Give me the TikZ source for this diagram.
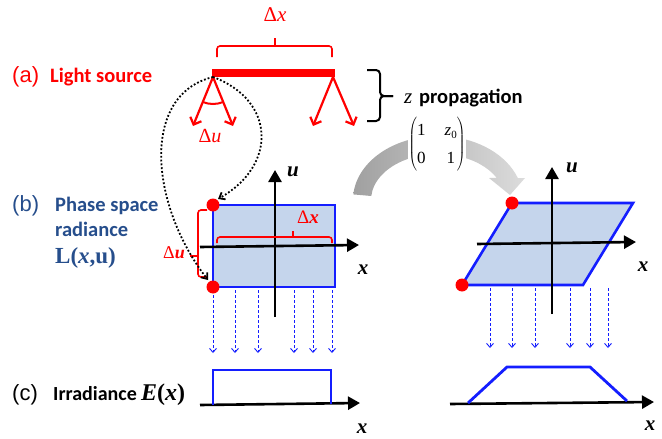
\documentclass[tikz,border=0pt]{standalone}
\usepackage{fontspec}
\setmainfont{Carlito}
\newfontfamily\tnr{Liberation Serif}
\newfontfamily\ars{Liberation Sans}
\usetikzlibrary{arrows.meta,calc}
\definecolor{lblue}{RGB}{197,213,236}
\definecolor{bblue}{RGB}{20,30,255}
\definecolor{dblue}{RGB}{38,78,140}
\definecolor{grayA}{RGB}{160,160,160}
\definecolor{grayB}{RGB}{220,220,220}
\newcommand\setfs[1]{\fontsize{#1}{#1}\selectfont}
\begin{document}
\begin{tikzpicture}[x=1pt,y=-1pt,
  axis/.style={line width=2.6pt,-{Triangle[length=12pt,width=13pt]}},
  raybeam/.style={red,line width=2.2pt,-{Straight Barb[length=6pt,width=12pt]}},
  dropray/.style={bblue,line width=0.9pt,dash pattern=on 3pt off 2pt,-{Straight Barb[length=4pt,width=7pt]}},
  dotcurve/.style={line width=1.8pt,dotted,-{Straight Barb[length=5pt,width=8pt]}},
  reddot/.style={circle,fill=red,inner sep=0pt,minimum size=13pt},
  bracepath/.style={line width=1.6pt,rounded corners=3pt},
  lab/.style={inner sep=0pt,anchor=base west},
  clab/.style={inner sep=0pt,anchor=base},
  axlab/.style={inner sep=0pt,font=\tnr\bfseries\itshape\setfs{21}},
  phasebox/.style={fill=lblue,draw=bblue,line width=2.6pt,line join=miter},
  irr/.style={bblue,line width=2.8pt}]
\useasboundingbox (0,0) rectangle (662,439);

% ---------- gray transformation arrow ----------
\coordinate (gc) at (438,200);
\shade[left color=grayA,right color=grayB]
  ($(gc)+(185:85 and 64)$) arc[start angle=185,end angle=340,x radius=85,y radius=64]
  -- (525,178) -- (510,195) -- (489,178)
  -- ($(gc)+(331.4:67 and 46)$) arc[start angle=331.4,end angle=185,x radius=67,y radius=46]
  -- cycle;
\node[fill=white,inner sep=0.5pt] (mat) at (437,144)
  {\fontsize{17}{20}\selectfont\renewcommand\arraystretch{1.4}$\left(\begin{tabular}{@{}c@{\hspace{19pt}}c@{}}\tnr 1 & \tnr\itshape z\raisebox{-3pt}{\upshape\setfs{11}0}\\ \tnr 0 & \tnr 1\end{tabular}\right)$};

% ---------- (a) light source ----------
\node[lab,text=red,font=\ars\setfs{22}] (pa) at (12,82) {(a)};
\node[lab,text=red,font=\bfseries\setfs{20.5}] (ls) at (50,82) {Light source};
\coordinate (barL) at (212,73);
\coordinate (barR) at (335,73);
\draw[red,line width=8pt] (barL) -- (barR);
\coordinate (aL) at (213,77);
\coordinate (aR) at (333,77);
\coordinate (aL1) at (193,126);
\coordinate (aL2) at (233,126);
\coordinate (aR1) at (313,126);
\coordinate (aR2) at (354,126);
\draw[raybeam] (aL) -- (aL1);
\draw[raybeam] (aL) -- (aL2);
\draw[raybeam] (aR) -- (aR1);
\draw[raybeam] (aR) -- (aR2);
\draw[red,line width=2pt] ($(aL)+(113:27)$) arc[start angle=113,end angle=67,radius=27];
\node[clab,text=red,font=\tnr\setfs{20}] (dub) at (210,142) {Δ\textit{u}};
% top brace
\draw[red,bracepath] (217,57) -- (217,46) -- (332,46) -- (332,57);
\draw[red,line width=1.6pt] (275,46) -- (275,38);
\node[clab,text=red,font=\tnr\setfs{21}] (dxt) at (275,21) {Δ\textit{x}};

% z propagation brace
\draw[line width=2pt,rounded corners=4pt] (367,70) -- (380,70) -- (380,96) -- (393,96);
\draw[line width=2pt,rounded corners=4pt] (367,121) -- (380,121) -- (380,96) -- (393,96);
\node[lab,font=\tnr\itshape\setfs{21}] (zz) at (404,103) {z};
\node[lab,font=\bfseries\setfs{20.5}] (zp) at (419,103) {propagation};

% ---------- (b) phase space ----------
\node[lab,text=dblue,font=\ars\setfs{22}] (pb) at (12,211) {(b)};
\node[lab,text=dblue,font=\bfseries\setfs{20.5}] (ps1) at (55,211) {Phase space};
\node[lab,text=dblue,font=\bfseries\setfs{20.5}] (ps2) at (55,236) {radiance};
\node[lab,text=dblue,font=\tnr\bfseries\setfs{23}] (ps3) at (55,263) {L(\textit{x},u)};

% left phase box
\coordinate (bxTL) at (213,205);
\coordinate (bxBR) at (335,287);
\draw[phasebox] (bxTL) rectangle (bxBR);
% right parallelogram
\coordinate (pgBL) at (462,285);
\coordinate (pgTL) at (512,203);
\coordinate (pgTR) at (633,203);
\coordinate (pgBR) at (583,285);
\draw[phasebox] (pgBL) -- (pgTL) -- (pgTR) -- (pgBR) -- cycle;

% dashed rays
\foreach \xx in {213,235,258,294,313,332}{
  \coordinate (ls\xx) at (\xx,290);
  \coordinate (le\xx) at (\xx,353);
  \draw[dropray] (ls\xx) -- (le\xx);}
\foreach \xx in {490,512,535,570,590,608}{
  \coordinate (rs\xx) at (\xx,288);
  \coordinate (re\xx) at (\xx,348);
  \draw[dropray] (rs\xx) -- (re\xx);}

% axes left
\coordinate (luB) at (275,317);
\coordinate (luT) at (275,170);
\coordinate (lxL) at (200,247);
\coordinate (lxR) at (359,245);
\draw[axis] (luB) -- (luT);
\draw[axis] (lxL) -- (lxR);
\node[axlab] (ul) at (293,172) {u};
\node[axlab] (xl) at (363,270) {x};
% axes right
\coordinate (ruB) at (552,314);
\coordinate (ruT) at (552,167);
\coordinate (rxL) at (477,244);
\coordinate (rxR) at (636,242);
\draw[axis] (ruB) -- (ruT);
\draw[axis] (rxL) -- (rxR);
\node[axlab] (ur) at (572,168) {u};
\node[axlab] (xr) at (643,267) {x};

% braces in left panel
\draw[red,bracepath] (217,243) -- (217,237) -- (332,237) -- (332,243);
\draw[red,line width=1.6pt] (293,237) -- (293,231);
\node[lab,text=red,font=\tnr\setfs{19}] (dxb) at (297,223) {Δ\textbf{\textit{x}}};
\draw[red,bracepath] (207,210) -- (198,210) -- (198,277) -- (207,277);
\draw[red,line width=1.6pt] (198,256) -- (190,256);
\node[lab,text=red,font=\tnr\setfs{18}] (dul) at (163,258) {Δ\textbf{\textit{u}}};

% red dots
\node[reddot] (d1) at (bxTL) {};
\node[reddot] (d2) at (213,287) {};
\node[reddot] (d3) at (pgTL) {};
\node[reddot] (d4) at (pgBL) {};

% dotted mapping curves
\coordinate (c1e) at (208,280);
\coordinate (c2e) at (218,199);
\draw[dotcurve] (aL) .. controls (140,95) and (150,205) .. (c1e);
\draw[dotcurve] (aL) .. controls (275,100) and (278,165) .. (c2e);

% ---------- (c) irradiance ----------
\node[lab,font=\ars\setfs{22}] (pc) at (12,400) {(c)};
\node[lab,font=\bfseries\setfs{20}] (irl) at (53,400) {Irradiance};
\node[lab,font=\tnr\bfseries\setfs{24}] (irE) at (141,400) {\textit{E}(\textit{x})};

\coordinate (ilL) at (200,405);
\coordinate (ilR) at (360,403);
\draw[axis] (ilL) -- (ilR);
\draw[irr] (213,405) -- (213,370) -- (331,370) -- (331,404);
\node[axlab] (xbl) at (362,429) {x};

\coordinate (irL) at (450,404);
\coordinate (irR) at (654,402);
\draw[axis] (irL) -- (irR);
\draw[irr] (468,403) -- (507,367) -- (590,367) -- (627,401);
\node[axlab] (xbr) at (650,426) {x};
\end{tikzpicture}
\end{document}
